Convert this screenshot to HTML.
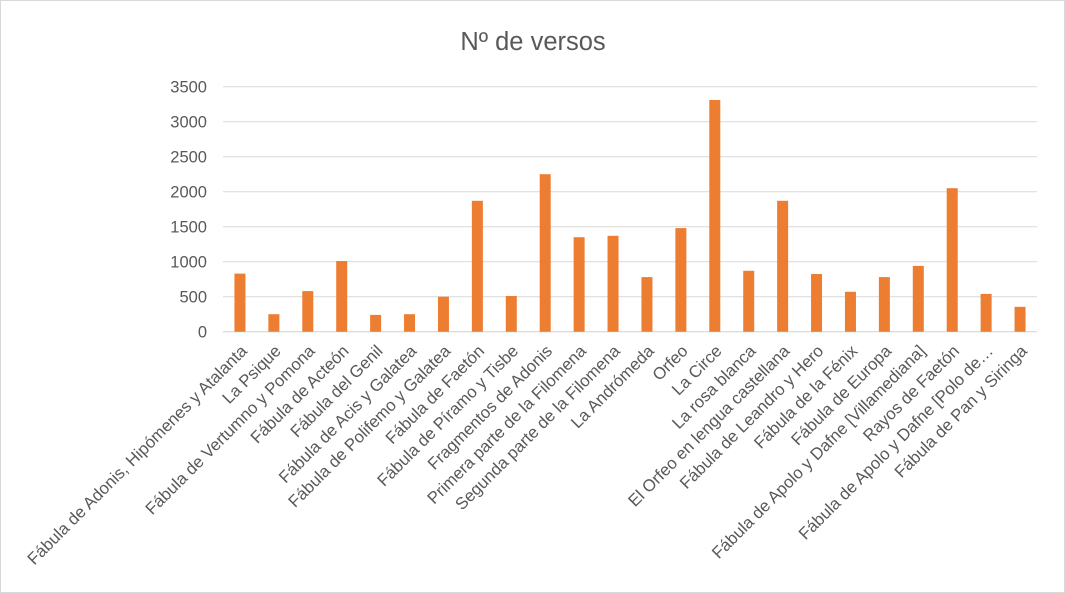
<!DOCTYPE html>
<html><head><meta charset="utf-8"><style>
body{margin:0;background:#fff}
svg{display:block;font-family:"Liberation Sans",Calibri,sans-serif}
</style></head><body>
<svg id="c" width="1065" height="593">
<rect x="0.5" y="0.5" width="1064" height="592" fill="#fff" stroke="#d9d9d9"/>
<text x="533" y="50" text-anchor="middle" font-size="25.5" fill="#595959">Nº de versos</text>
</svg>
<script>
const categories=["Fábula de Adonis, Hipómenes y Atalanta","La Psique","Fábula de Vertumno y Pomona","Fábula de Acteón","Fábula del Genil","Fábula de Acis y Galatea","Fábula de Polifemo y Galatea","Fábula de Faetón","Fábula de Píramo y Tisbe","Fragmentos de Adonis","Primera parte de la Filomena","Segunda parte de la Filomena","La Andrómeda","Orfeo","La Circe","La rosa blanca","El Orfeo en lengua castellana","Fábula de Leandro y Hero","Fábula de la Fénix","Fábula de Europa","Fábula de Apolo y Dafne [Villamediana]","Rayos de Faetón","Fábula de Apolo y Dafne [Polo de…","Fábula de Pan y Siringa"];
const values=[830,250,580,1010,240,250,500,1870,510,2250,1350,1370,780,1480,3310,870,1870,824,570,780,940,2050,540,355];
const ticks=[0,500,1000,1500,2000,2500,3000,3500];
const NS="http://www.w3.org/2000/svg",svg=document.getElementById('c');
const L=223,R=1037,T=86.7,B=331.7,max=3500;
const y=v=>B-(B-T)*v/max, step=(R-L)/categories.length, x=i=>L+step*(i+0.5);
function mk(t,a){const e=document.createElementNS(NS,t);for(const k in a)e.setAttribute(k,a[k]);svg.appendChild(e);return e;}
ticks.forEach(t=>{
 const g=mk('line',{x1:L,x2:R,y1:y(t),y2:y(t),stroke:t===0?'#d0d0d0':'#d9d9d9','stroke-width':1});
 
 
 const tx=mk('text',{x:207,y:y(t)+6,'text-anchor':'end','font-size':16.5,fill:'#595959'});tx.textContent=t;
 
 
});
categories.forEach((c,i)=>{
 const b=mk('rect',{x:x(i)-5.5,y:y(values[i]),width:11,height:B-y(values[i]),fill:'#ed7d31'});
 
 
 const cx=x(i)+8,cy=352;
 const t=mk('text',{x:cx,y:cy,'text-anchor':'end','font-size':16.8,fill:'#595959',transform:`rotate(-45 ${cx} ${cy})`});t.textContent=c;
 
 
});
</script>
</body></html>
